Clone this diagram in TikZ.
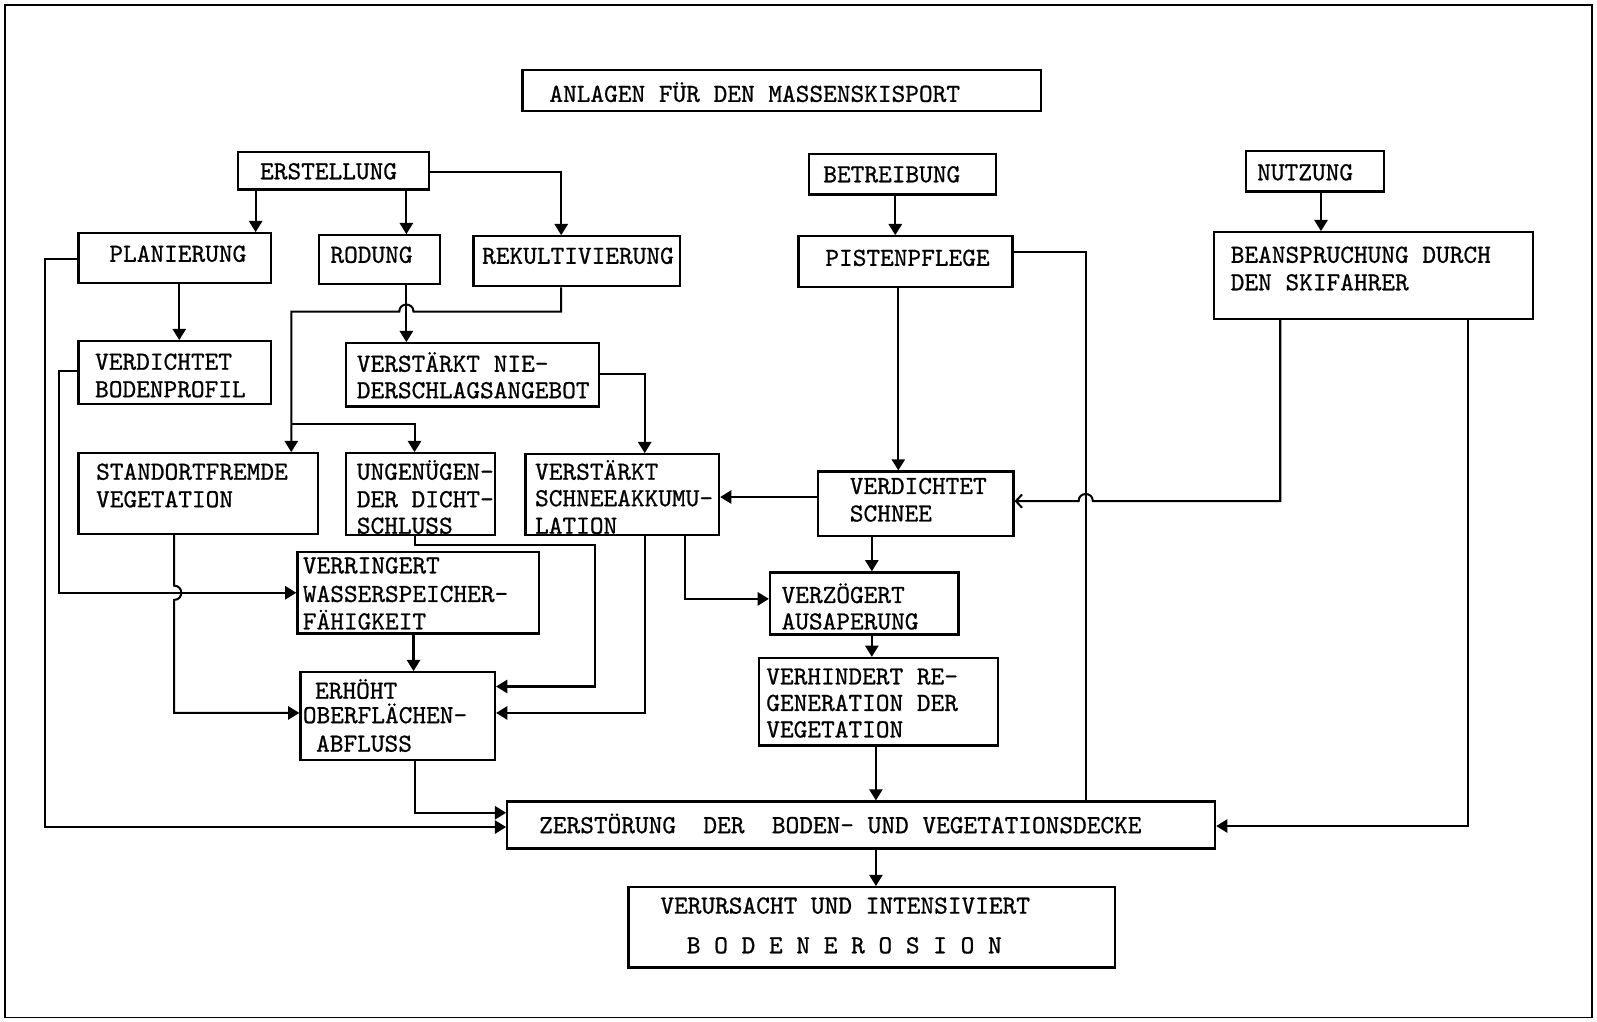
\documentclass[tikz,border=0pt]{standalone}
\usepackage{fontspec}
\setmonofont[FakeBold=0.8]{lmmono10-regular.otf}
\usetikzlibrary{arrows.meta,fit}
\newcommand\twfont{\fontsize{12.8pt}{15pt}\selectfont\ttfamily}
\tikzset{
  box/.style={draw, line width=1.1pt, inner sep=0pt},
  txt/.style={anchor=base west, inner sep=0pt, font=\twfont},
  conn/.style={line width=1pt},
  arr/.style={conn, -{Triangle[length=5.5pt,width=6.5pt]}},
  barb/.style={conn, -{Straight Barb[length=3pt,width=6.5pt]}},
}
\newcommand\bx[5]{\node[box, fit={(#2,#3) (#4,#5)}] (#1) {};}
\newcommand\tx[4]{\node[txt] (#1) at (#2,#3) {#4};}
\begin{document}
\begin{tikzpicture}[x=0.5pt,y=-0.5pt]
\useasboundingbox (0,0) rectangle (1568,1003);
\draw[line width=0.9pt] (5,5) rectangle (1563,999);
% boxes
\bx{title}{513}{69}{1022}{109}
\bx{erst}{234}{149}{421}{186}
\bx{plan}{77}{229}{266}{278}
\bx{rod}{313}{231}{432}{279}
\bx{rek}{465}{232}{668}{281}
\bx{betr}{794}{151}{978}{191}
\bx{pist}{784}{232}{994}{282}
\bx{nutz}{1223}{148}{1359}{188}
\bx{bean}{1192}{228}{1505}{313}
\bx{vbod}{77}{335}{266}{397}
\bx{vnie}{340}{337}{588}{399}
\bx{stand}{77}{445}{312}{524}
\bx{ungen}{340}{445}{486}{525}
\bx{vschn}{516}{446}{706}{525}
\bx{vdsch}{803}{463}{995}{526}
\bx{verr}{292}{542}{529}{622}
\bx{verz}{756}{562}{941}{623}
\bx{erh}{295}{660}{486}{746}
\bx{verh}{745}{646}{980}{732}
\bx{zers}{498}{787}{1193}{833}
\bx{veru}{617}{871}{1095}{950}
% texts
\tx{t0}{539}{100}{ANLAGEN FÜR DEN MASSENSKISPORT}
\tx{t1}{255}{176}{ERSTELLUNG}
\tx{t2}{107}{257}{PLANIERUNG}
\tx{t3}{324}{258}{RODUNG}
\tx{t4}{473}{259}{REKULTIVIERUNG}
\tx{t5}{808}{179}{BETREIBUNG}
\tx{t6}{810}{261}{PISTENPFLEGE}
\tx{t7}{1234}{177}{NUTZUNG}
\tx{t8a}{1208}{258}{BEANSPRUCHUNG DURCH}
\tx{t8b}{1208}{285}{DEN SKIFAHRER}
\tx{t9a}{93}{363}{VERDICHTET}
\tx{t9b}{93}{390}{BODENPROFIL}
\tx{t10a}{350}{365}{VERSTÄRKT NIE-}
\tx{t10b}{350}{391}{DERSCHLAGSANGEBOT}
\tx{t11a}{94}{471}{STANDORTFREMDE}
\tx{t11b}{94}{498}{VEGETATION}
\tx{t12a}{350}{471}{UNGENÜGEN-}
\tx{t12b}{350}{498}{DER DICHT-}
\tx{t12c}{350}{524}{SCHLUSS}
\tx{t13a}{525}{471}{VERSTÄRKT}
\tx{t13b}{525}{497}{SCHNEEAKKUMU-}
\tx{t13c}{525}{524}{LATION}
\tx{t14a}{834}{485}{VERDICHTET}
\tx{t14b}{834}{512}{SCHNEE}
\tx{t15a}{297}{563}{VERRINGERT}
\tx{t15b}{297}{591}{WASSERSPEICHER-}
\tx{t15c}{297}{618}{FÄHIGKEIT}
\tx{t16a}{767}{592}{VERZÖGERT}
\tx{t16b}{767}{618}{AUSAPERUNG}
\tx{t17a}{309}{686}{ERHÖHT}
\tx{t17b}{297}{710}{OBERFLÄCHEN-}
\tx{t17c}{310}{738}{ABFLUSS}
\tx{t18a}{752}{672}{VERHINDERT RE-}
\tx{t18b}{752}{698}{GENERATION DER}
\tx{t18c}{752}{724}{VEGETATION}
\tx{t19}{529}{818}{ZERSTÖRUNG\ \ DER\ \ BODEN- UND VEGETATIONSDECKE}
\tx{t20}{648}{897}{VERURSACHT UND INTENSIVIERT}
\tx{t21}{674}{936}{B O D E N E R O S I O N}
% connectors
\draw[arr] (erst.south -| 251,0) -- (plan.north -| 251,0);
\draw[arr] (erst.south -| 399,0) -- (rod.north -| 399,0);
\draw[arr] (erst.east |- 0,169) -| (rek.north -| 551,0);
\draw[arr] (plan.south -| 176,0) -- (vbod.north -| 176,0);
\draw[arr] (rod.south -| 399,0) -- (vnie.north -| 399,0);
\draw[arr] (rek.south -| 551,0) -- (551,306) -- (406,306)
  .. controls (406,296.7) and (392,296.7) .. (392,306) -- (286,306) -- (stand.north -| 286,0);
\coordinate (br) at (286,416);
\draw[arr] (br) -- (407,416) -- (ungen.north -| 407,0);
\draw[arr] (vnie.east |- 0,367) -| (vschn.north -| 633,0);
\draw[arr] (plan.west |- 0,254) -- (44,254) -- (44,812) -- (zers.west |- 0,812);
\draw[arr] (vbod.west |- 0,364) -- (58,364) -- (58,582) -- (verr.west |- 0,582);
\draw[arr] (stand.south -| 171,0) -- (171,575)
  .. controls (180.3,575) and (180.3,589) .. (171,589) -- (171,700) -- (erh.west |- 0,700);
\draw[arr] (ungen.south -| 407,0) -- (407,535) -- (584,535) -- (584,674) -- (erh.east |- 0,674);
\draw[arr] (vschn.south -| 633,0) -- (633,700) -- (erh.east |- 0,700);
\draw[arr] (vschn.south -| 673,0) |- (verz.west |- 0,588);
\draw[arr] (verr.south -| 406,0) -- (erh.north -| 406,0);
\draw[arr] (erh.south -| 407,0) |- (zers.west |- 0,798);
\draw[arr] (betr.south -| 879,0) -- (pist.north -| 879,0);
\draw[arr] (pist.south -| 882,0) -- (vdsch.north -| 882,0);
\draw[conn] (pist.east |- 0,247) -| (zers.north -| 1066,0);
\draw[arr] (nutz.south -| 1297,0) -- (bean.north -| 1297,0);
\draw[barb] (bean.south -| 1257,0) -- (1257,492) -- (1073,492)
  .. controls (1073,482.7) and (1059,482.7) .. (1059,492) -- (vdsch.east |- 0,492);
\draw[arr] (bean.south -| 1441,0) |- (zers.east |- 0,811);
\draw[arr] (vdsch.west |- 0,488) -- (vschn.east |- 0,488);
\draw[arr] (vdsch.south -| 856,0) -- (verz.north -| 856,0);
\draw[arr] (verz.south -| 856,0) -- (verh.north -| 856,0);
\draw[arr] (verh.south -| 860,0) -- (zers.north -| 860,0);
\draw[arr] (zers.south -| 860,0) -- (veru.north -| 860,0);
\end{tikzpicture}
\end{document}
